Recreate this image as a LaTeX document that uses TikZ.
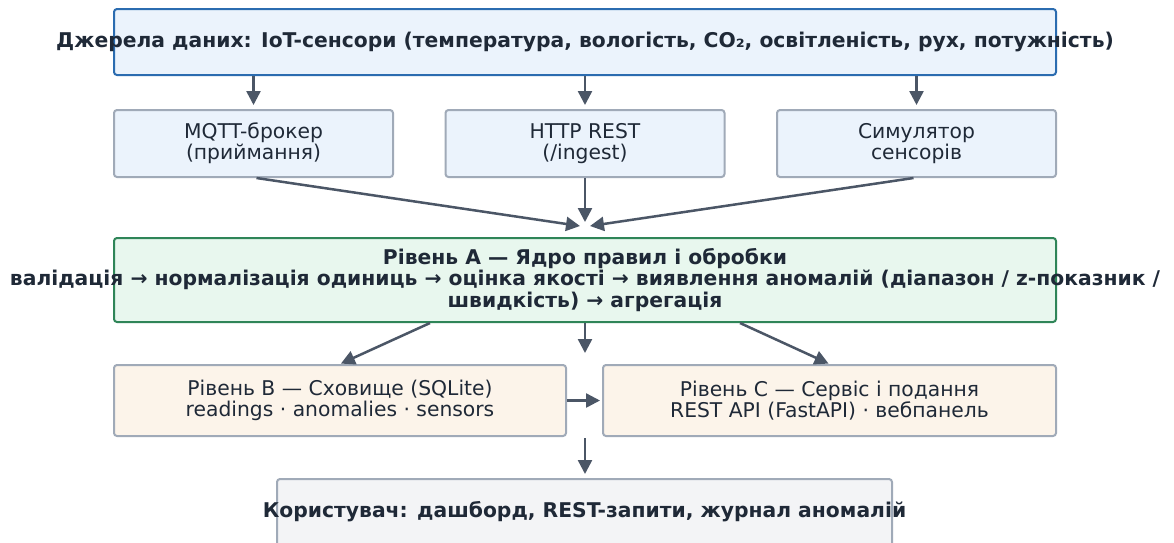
\documentclass[tikz,border=0pt]{standalone}
\usepackage{fontspec}
\setmainfont{DejaVu Sans}
\usetikzlibrary{arrows.meta,calc}
\definecolor{ink}{HTML}{1F2937}
\definecolor{arrowc}{HTML}{4B5666}
\definecolor{blueline}{HTML}{2B6CB0}
\definecolor{bluefill}{HTML}{EBF3FC}
\definecolor{grayline}{HTML}{A0AAB8}
\definecolor{greenline}{HTML}{2F8558}
\definecolor{greenfill}{HTML}{E8F7EE}
\definecolor{sandfill}{HTML}{FCF4EA}
\definecolor{userfill}{HTML}{F3F4F6}
\tikzset{
  box/.style={draw, rounded corners=3pt, line width=2pt, inner sep=0pt},
  srcbox/.style={box, draw=blueline, fill=bluefill},
  inbox/.style={box, draw=grayline, fill=bluefill, minimum width=279pt, minimum height=67pt},
  corebox/.style={box, draw=greenline, fill=greenfill},
  tierbox/.style={box, draw=grayline, fill=sandfill, minimum width=452pt, minimum height=71pt},
  userbox/.style={box, draw=grayline, fill=userfill},
  txt/.style={text=ink, align=center, font=\fontsize{20.3}{21}\selectfont, inner sep=0pt},
  txtb/.style={txt, font=\fontsize{20.3}{21.5}\selectfont\bfseries},
  arr/.style={draw=arrowc, line width=2.5pt, -{Triangle[length=14pt,width=14pt]}},
}
\begin{document}
\begin{tikzpicture}[x=1pt,y=-1pt]
\useasboundingbox (0,0) rectangle (1174,542);
\clip (0,0) rectangle (1174,542);
\fill[white] (0,0) rectangle (1174,542);

% sources
\node[srcbox, minimum width=942pt, minimum height=66pt] (src) at (585,42) {};
\node[txtb] (srct) at (src.center) {Джерела даних: IoT-сенсори (температура, вологість, CO₂, освітленість, рух, потужність)};

% ingestion channels
\node[inbox] (mqtt) at (253.5,143.5) {};
\node[txt] at (mqtt.center) {MQTT-брокер\\(приймання)};
\node[inbox] (http) at (585,143.5) {};
\node[txt] at (http.center) {HTTP REST\\(/ingest)};
\node[inbox] (sim) at (916.5,143.5) {};
\node[txt] at (sim.center) {Симулятор\\сенсорів};

% tier A
\node[corebox, minimum width=942pt, minimum height=84pt] (core) at (585,280) {};
\node[txtb] at (core.center) {Рівень А — Ядро правил і обробки\\валідація → нормалізація одиниць → оцінка якості → виявлення аномалій (діапазон / z-показник /\\швидкість) → агрегація};

% tiers B and C
\node[tierbox] (store) at (340,400.5) {};
\node[txt] at (store.center) {Рівень B — Сховище (SQLite)\\readings · anomalies · sensors};
\node[tierbox, minimum width=453pt] (serve) at (829.5,400.5) {};
\node[txt] at (serve.center) {Рівень C — Сервіс і подання\\REST API (FastAPI) · вебпанель};

% user
\node[userbox, minimum width=615pt, minimum height=90pt] (user) at (584.5,524) {};
\node[txtb] at (584.5,512) {Користувач: дашборд, REST-запити, журнал аномалій};

% connector end points
\coordinate (mqttin) at (580,226);
\coordinate (simin) at (590,226);
\coordinate (httpin) at (585,222);
\coordinate (coreout) at (585,353);
\coordinate (tierout) at (585,438);

% sources to channels
\draw[arr, shorten >=4pt] (src.south -| mqtt.north) -- (mqtt.north);
\draw[arr, shorten >=4pt] (src.south -| http.north) -- (http.north);
\draw[arr, shorten >=4pt] (src.south -| sim.north) -- (sim.north);

% channels to tier A
\draw[arr] ($(mqtt.south)+(3,0)$) -- (mqttin);
\draw[arr] (http.south) -- (httpin);
\draw[arr] ($(sim.south)+(-3,0)$) -- (simin);

% tier A to tiers B and C
\draw[arr, shorten >=1pt] ($(core.south)+(-155,0)$) -- (store.north);
\draw[arr] (core.south) -- (coreout);
\draw[arr, shorten >=1pt] ($(core.south)+(155,0)$) -- (serve.north);

% B to C and on to the user
\draw[arr, shorten >=2pt] (store.east) -- (serve.west);
\draw[arr, shorten >=4pt] (tierout) -- (tierout |- user.north);
\end{tikzpicture}
\end{document}
